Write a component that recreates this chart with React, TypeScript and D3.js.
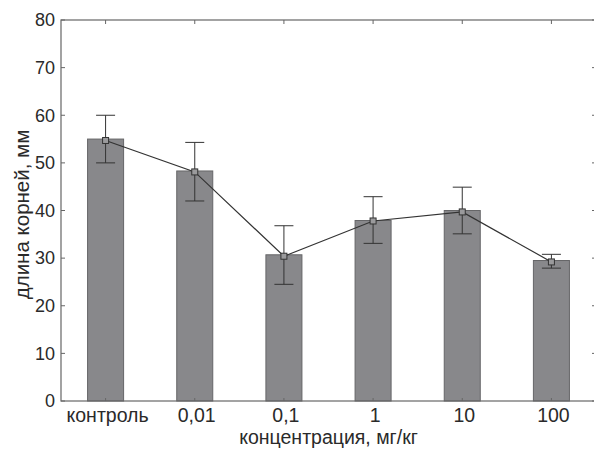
import React, { useEffect, useRef } from 'react';
import * as d3 from 'd3';

const categories = ['контроль', '0,01', '0,1', '1', '10', '100'];
const barValues = [55, 48.3, 30.7, 37.9, 40.0, 29.5];
const pointValues = [54.7, 48.1, 30.4, 37.8, 39.7, 29.2];
const errLow = [50, 42.0, 24.5, 33.1, 35.1, 27.9];
const errHigh = [60, 54.3, 36.8, 42.9, 44.9, 30.8];
const yTicks = [0, 10, 20, 30, 40, 50, 60, 70, 80];

const App = () => {
  const svgRef = useRef<SVGSVGElement>(null);

  useEffect(() => {
    const left = 61, right = 596, top = 20, bottom = 401;
    const textColor = '#2a2a2a';
    const frameColor = '#666';

    const svg = d3.select(svgRef.current);
    svg.selectAll('*').remove();

    const x = d3.scaleBand<string>()
      .domain(categories)
      .range([left, right])
      .paddingInner(0.596)
      .paddingOuter(0.298);

    const y = d3.scaleLinear().domain([0, 80]).range([bottom, top]);
    const cx = (c: string) => (x(c) as number) + x.bandwidth() / 2;

    // Bars
    svg.append('g')
      .selectAll('rect')
      .data(categories)
      .enter()
      .append('rect')
      .attr('x', d => x(d) as number)
      .attr('width', x.bandwidth())
      .attr('y', (d, i) => y(barValues[i]))
      .attr('height', (d, i) => bottom - y(barValues[i]))
      .attr('fill', '#88888b')
      .attr('stroke', '#666668')
      .attr('stroke-width', 1);

    // Frame
    svg.append('rect')
      .attr('x', left)
      .attr('y', top)
      .attr('width', right - left)
      .attr('height', bottom - top)
      .attr('fill', 'none')
      .attr('stroke', frameColor)
      .attr('stroke-width', 1.2);

    // Y ticks (left and right, inward)
    const yt = svg.append('g');
    yTicks.forEach(t => {
      yt.append('line')
        .attr('x1', left).attr('x2', left + 4)
        .attr('y1', y(t)).attr('y2', y(t))
        .attr('stroke', frameColor);
      yt.append('line')
        .attr('x1', right - 4).attr('x2', right)
        .attr('y1', y(t)).attr('y2', y(t))
        .attr('stroke', frameColor);
      yt.append('text')
        .attr('x', left - 6)
        .attr('y', y(t))
        .attr('dy', '0.35em')
        .attr('text-anchor', 'end')
        .attr('font-size', 18)
        .attr('fill', textColor)
        .text(t);
    });

    // X ticks (top and bottom, inward)
    const xt = svg.append('g');
    categories.forEach(c => {
      xt.append('line')
        .attr('x1', cx(c)).attr('x2', cx(c))
        .attr('y1', top).attr('y2', top + 4)
        .attr('stroke', frameColor);
      xt.append('line')
        .attr('x1', cx(c)).attr('x2', cx(c))
        .attr('y1', bottom - 3).attr('y2', bottom)
        .attr('stroke', frameColor);
      xt.append('text')
        .attr('x', cx(c) + 2)
        .attr('y', 422)
        .attr('text-anchor', 'middle')
        .attr('font-size', 19.5)
        .attr('fill', textColor)
        .text(c);
    });

    // Error bars
    const eb = svg.append('g').attr('stroke', '#333').attr('stroke-width', 1);
    categories.forEach((c, i) => {
      eb.append('line')
        .attr('x1', cx(c)).attr('x2', cx(c))
        .attr('y1', y(errLow[i])).attr('y2', y(errHigh[i]));
      [errLow[i], errHigh[i]].forEach(v => {
        eb.append('line')
          .attr('x1', cx(c) - 9.5).attr('x2', cx(c) + 9.5)
          .attr('y1', y(v)).attr('y2', y(v));
      });
    });

    // Line with square markers
    const line = d3.line<number>()
      .x((d, i) => cx(categories[i]))
      .y(d => y(d));

    svg.append('path')
      .datum(pointValues)
      .attr('d', line)
      .attr('fill', 'none')
      .attr('stroke', '#333')
      .attr('stroke-width', 1.2);

    svg.append('g')
      .selectAll('rect')
      .data(pointValues)
      .enter()
      .append('rect')
      .attr('x', (d, i) => cx(categories[i]) - 3)
      .attr('y', d => y(d) - 3)
      .attr('width', 6)
      .attr('height', 6)
      .attr('fill', '#9a9a9c')
      .attr('stroke', '#333')
      .attr('stroke-width', 1);

    // Axis titles
    svg.append('text')
      .attr('x', (left + right) / 2)
      .attr('y', 444)
      .attr('text-anchor', 'middle')
      .attr('font-size', 19.5)
      .attr('fill', textColor)
      .text('концентрация, мг/кг');

    svg.append('text')
      .attr('transform', `translate(29,${(top + bottom) / 2 + 4}) rotate(-90)`)
      .attr('text-anchor', 'middle')
      .attr('font-size', 20.5)
      .attr('fill', textColor)
      .text('длина корней, мм');
  }, []);

  return (
    <svg
      ref={svgRef}
      width={594}
      height={450}
      style={{ position: 'absolute', left: 0, top: 0, background: '#fff', fontFamily: '"Liberation Sans", Arial, sans-serif' }}
    />
  );
};

export default App;
